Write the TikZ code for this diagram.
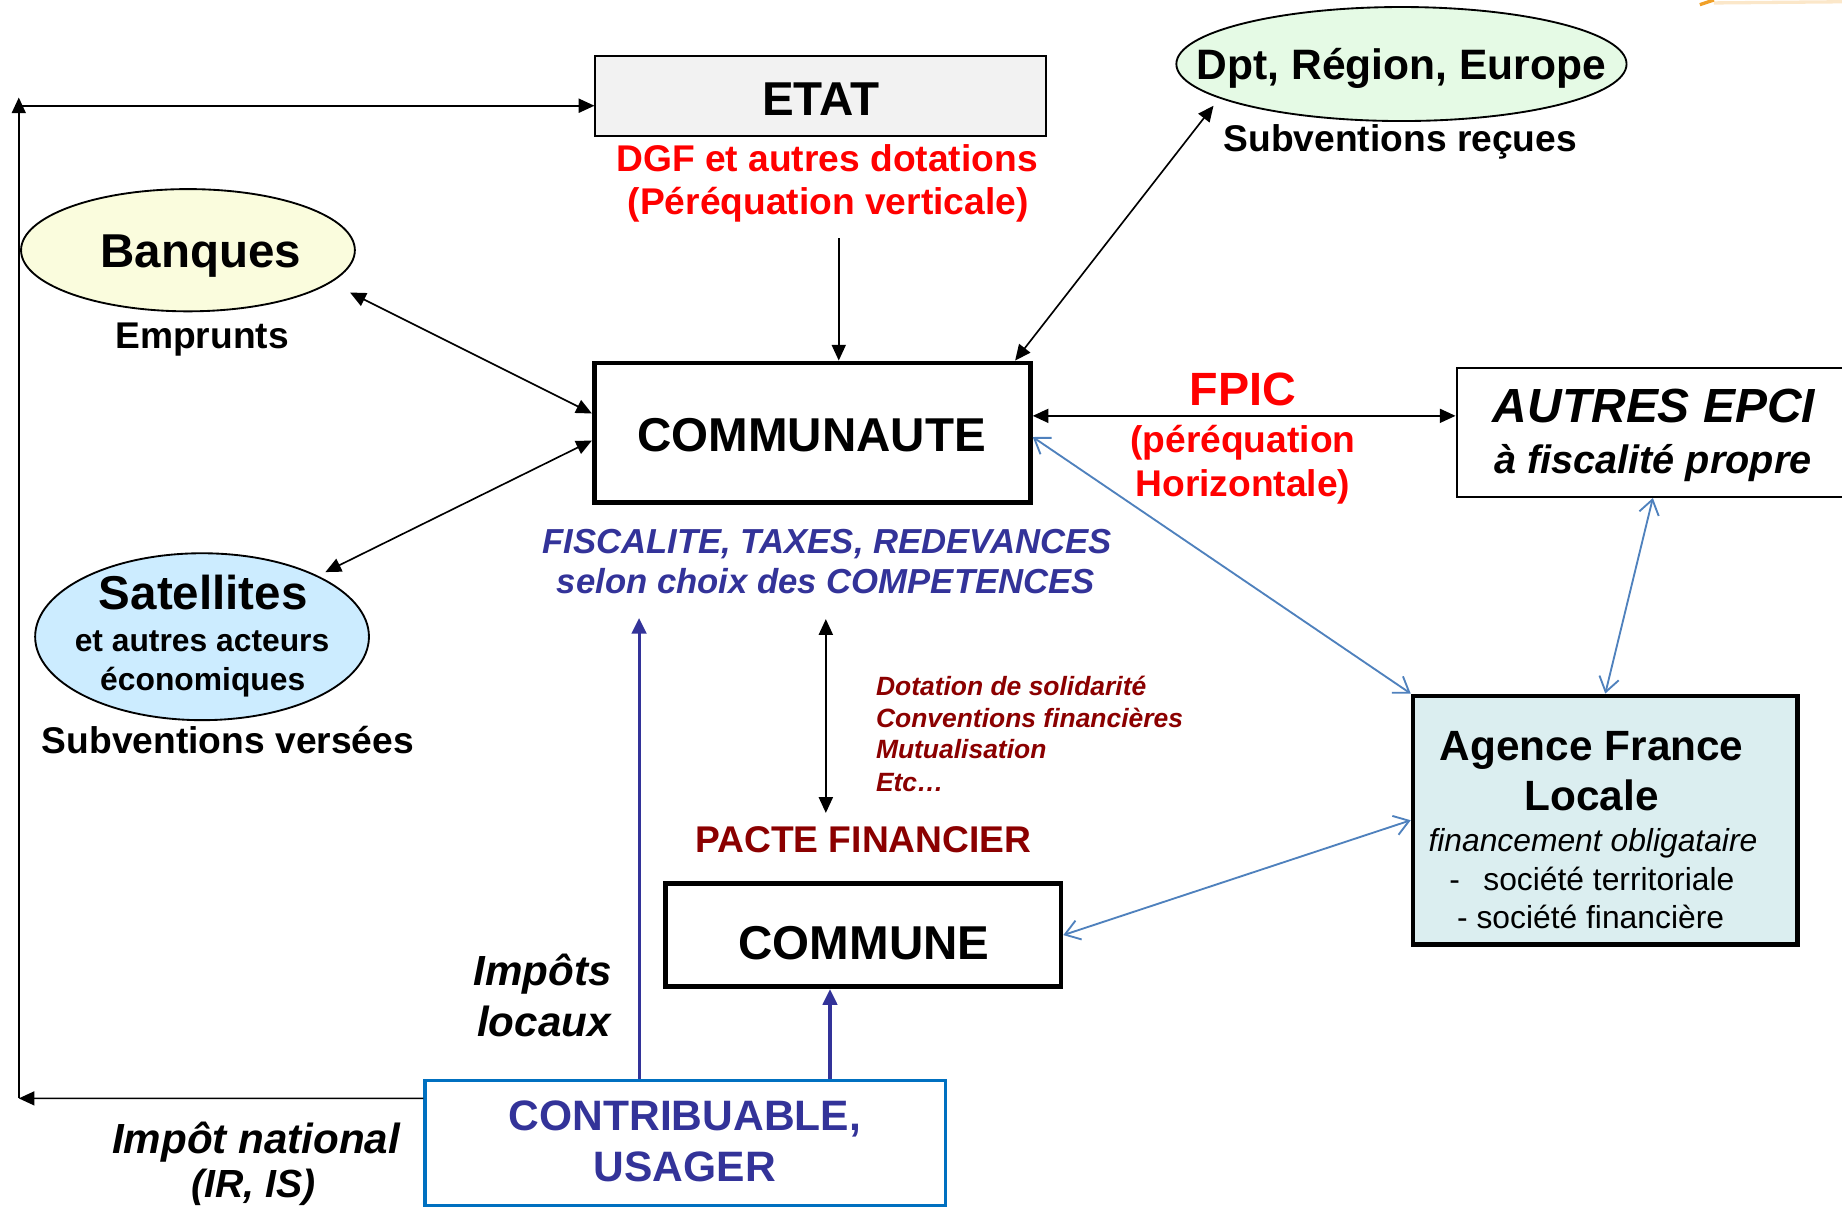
\documentclass[tikz,border=0pt]{standalone}
\usepackage{fontspec}
\setmainfont{Liberation Sans}
\usetikzlibrary{arrows.meta,shapes.geometric,calc}
\definecolor{etatgray}{RGB}{242,242,242}
\definecolor{banqfill}{RGB}{250,252,221}
\definecolor{dptfill}{RGB}{229,250,229}
\definecolor{satfill}{RGB}{204,236,255}
\definecolor{aflfill}{RGB}{219,238,240}
\definecolor{pactered}{RGB}{139,0,0}
\definecolor{fiscblue}{RGB}{51,51,153}
\definecolor{linkblue}{RGB}{79,129,189}
\definecolor{contribborder}{RGB}{0,112,192}
\definecolor{refred}{RGB}{255,0,0}
\definecolor{refink}{RGB}{0,0,0}
\definecolor{markorange}{RGB}{240,160,40}
\newcommand{\fsz}[1]{\fontsize{#1pt}{#1pt}\selectfont}
\begin{document}
\begin{tikzpicture}[x=0.01cm,y=-0.01cm,
  txt/.style={inner sep=0pt,anchor=base,text=refink},
  bigb/.style={txt,font=\fsz{11.5}\bfseries},
  medb/.style={txt,font=\fsz{9}\bfseries},
  medr/.style={txt,font=\fsz{9}\bfseries,text=refred},
  fisctxt/.style={txt,font=\fsz{8.4}\bfseries\itshape,text=fiscblue},
  satsub/.style={txt,font=\fsz{7.7}\bfseries},
  soltxt/.style={txt,anchor=base west,font=\fsz{6.4}\bfseries\itshape,text=pactered},
  afltxt/.style={txt,font=\fsz{7.7}},
  thinbox/.style={draw=refink,line width=0.5pt,inner sep=0pt},
  thickbox/.style={draw=refink,line width=1.15pt,inner sep=0pt},
  ell/.style={ellipse,draw=refink,line width=0.45pt,inner sep=0pt},
  blk/.style={draw=refink,line width=0.4pt,-{Triangle[length=3.8pt,width=3.4pt]}},
  blktwo/.style={draw=refink,line width=0.4pt,{Triangle[length=3.8pt,width=3.4pt]}-{Triangle[length=3.8pt,width=3.4pt]}},
  lnk/.style={draw=linkblue,line width=0.45pt,{Straight Barb[length=3.5pt,width=4.8pt]}-{Straight Barb[length=3.5pt,width=4.8pt]}},
  thk/.style={draw=fiscblue,line width=0.75pt,-{Triangle[length=3.8pt,width=3.5pt]}}
]
\useasboundingbox (0,0) rectangle (1568,1027);

% boxes
\node[thinbox,fill=etatgray,minimum width=38.3mm,minimum height=6.8mm] (etat) at (698.5,82) {};
\node[thickbox,minimum width=37.1mm,minimum height=11.9mm] (communaute) at (691.5,368.5) {};
\node[thinbox,minimum width=33.4mm,minimum height=10.95mm] (autres) at (1407,368.25) {};
\node[thickbox,fill=aflfill,minimum width=32.7mm,minimum height=21.15mm] (afl) at (1366.5,698.25) {};
\node[thickbox,minimum width=33.65mm,minimum height=8.8mm] (commune) at (734.75,796) {};
\node[draw=contribborder,line width=0.85pt,inner sep=0pt,minimum width=44.26mm,minimum height=10.6mm] (contrib) at (583.3,973) {};

% ellipses
\node[ell,fill=banqfill,minimum width=28.4mm,minimum height=10.4mm] (banques) at (160,213) {};
\node[ell,fill=dptfill,minimum width=38.3mm,minimum height=9.7mm] (dpt) at (1193,54.5) {};
\node[ell,fill=satfill,minimum width=28.4mm,minimum height=14.2mm] (satellites) at (172,542) {};

% texts
\node[bigb] (etatt) at (698.5,98) {ETAT};
\node[medr] (dgfa) at (704,146) {DGF et autres dotations};
\node[medr] (dgfb) at (705,183) {(Péréquation verticale)};
\node[bigb] (banqt) at (171,228) {Banques};
\node[medb] (empr) at (172,296.5) {Emprunts};
\node[txt,font=\fsz{10.3}\bfseries] (dptt) at (1193,67.6) {Dpt, Région, Europe};
\node[medb] (subr) at (1192,129) {Subventions reçues};
\node[bigb] (commt) at (691,384) {COMMUNAUTE};
\node[txt,font=\fsz{11.3}\bfseries,text=refred] (fpic) at (1058,345) {FPIC};
\node[medr] (fpicb) at (1058,385) {(péréquation};
\node[medr] (fpicc) at (1058,423) {Horizontale)};
\node[txt,font=\fsz{11.6}\bfseries\itshape] (autta) at (1408,360) {AUTRES EPCI};
\node[txt,font=\fsz{9.6}\bfseries\itshape] (auttb) at (1407,403) {à fiscalité propre};
\node[fisctxt] (fisca) at (704,471) {FISCALITE, TAXES, REDEVANCES};
\node[fisctxt] (fiscb) at (703,505) {selon choix des COMPETENCES};
\node[bigb] (satt) at (173,519) {Satellites};
\node[satsub] (satb) at (172,554.8) {et autres acteurs};
\node[satsub] (satc) at (172.6,587.4) {économiques};
\node[medb] (subv) at (194,641) {Subventions versées};
\node[soltxt] (sola) at (745,592) {Dotation de solidarité};
\node[soltxt] (solb) at (745,619) {Conventions financières};
\node[soltxt] (solc) at (745,646) {Mutualisation};
\node[soltxt] (sold) at (745,674) {Etc…};
\node[txt,font=\fsz{9}\bfseries,text=pactered] (pacte) at (735,726) {PACTE FINANCIER};
\node[bigb] (communet) at (735.5,817) {COMMUNE};
\node[txt,font=\fsz{10.25}\bfseries] (afla) at (1355,647) {Agence France};
\node[txt,font=\fsz{10.25}\bfseries] (aflb) at (1355,690) {Locale};
\node[afltxt,font=\fsz{7.7}\itshape] (aflc) at (1356,725) {financement obligataire};
\node[afltxt,anchor=base west] (afldash) at (1233,758) {-};
\node[afltxt,anchor=base west] (afld) at (1262,758) {société territoriale};
\node[afltxt] (afle) at (1354,790) {- société financière};
\node[txt,font=\fsz{10.3}\bfseries,text=fiscblue] (ctba) at (583,962) {CONTRIBUABLE,};
\node[txt,font=\fsz{10.3}\bfseries,text=fiscblue] (ctbb) at (583,1006) {USAGER};
\node[txt,font=\fsz{10.2}\bfseries\itshape] (impa) at (462,838.5) {Impôts};
\node[txt,font=\fsz{10.2}\bfseries\itshape] (impb) at (463,882.5) {locaux};
\node[txt,font=\fsz{10.2}\bfseries\itshape] (impna) at (218,981.5) {Impôt national};
\node[txt,font=\fsz{9.5}\bfseries\itshape] (impnb) at (216,1019) {(IR, IS)};

% free ends
\coordinate (lc) at (16,935);
\coordinate (lt) at (16,83);
\coordinate (etatin) at ([yshift=-0.8mm]etat.west);
\coordinate (etatarr) at (714,203);
\coordinate (dptend) at (1033,90);
\coordinate (bqend) at (298,249);
\coordinate (satend) at (277,487);
\coordinate (paa) at (703,527);
\coordinate (pab) at (703,692);
\coordinate (fiscin) at (544,526);
\coordinate (cmin) at ([xshift=-2.82mm]commune.south);

% connectors
\draw[blk] ([yshift=3.8mm]contrib.west) -- (lc);
\draw[blk] (lc) -- (lt);
\draw[blk] (lt |- etatin) -- (etatin);
\draw[blk] (etatarr) -- (etatarr |- communaute.north);
\draw[blktwo] (dptend) -- ([xshift=-1.5mm]communaute.north east);
\draw[blktwo] (bqend) -- ([yshift=1.65mm]communaute.west);
\draw[blktwo] ([yshift=-0.65mm]communaute.west) -- (satend);
\draw[blktwo] ([yshift=1.45mm]communaute.east) -- ([yshift=1.45mm]communaute.east -| autres.west);
\draw[lnk] ([yshift=-0.35mm]communaute.east) -- (afl.north west);
\draw[lnk] (autres.south) -- (afl.north);
\draw[lnk] (afl.west) -- (commune.east);
\draw[blktwo] (paa) -- (pab);
\draw[thk] (fiscin |- contrib.north) -- (fiscin);
\draw[thk] (cmin |- contrib.north) -- (cmin);

% small orange mark at the top right corner
\draw[markorange,line width=0.8pt] (1447,4) -- (1459,0);
\draw[markorange,opacity=0.25,line width=0.8pt] (1459,2.5) -- (1568,1.5);
\end{tikzpicture}
\end{document}
